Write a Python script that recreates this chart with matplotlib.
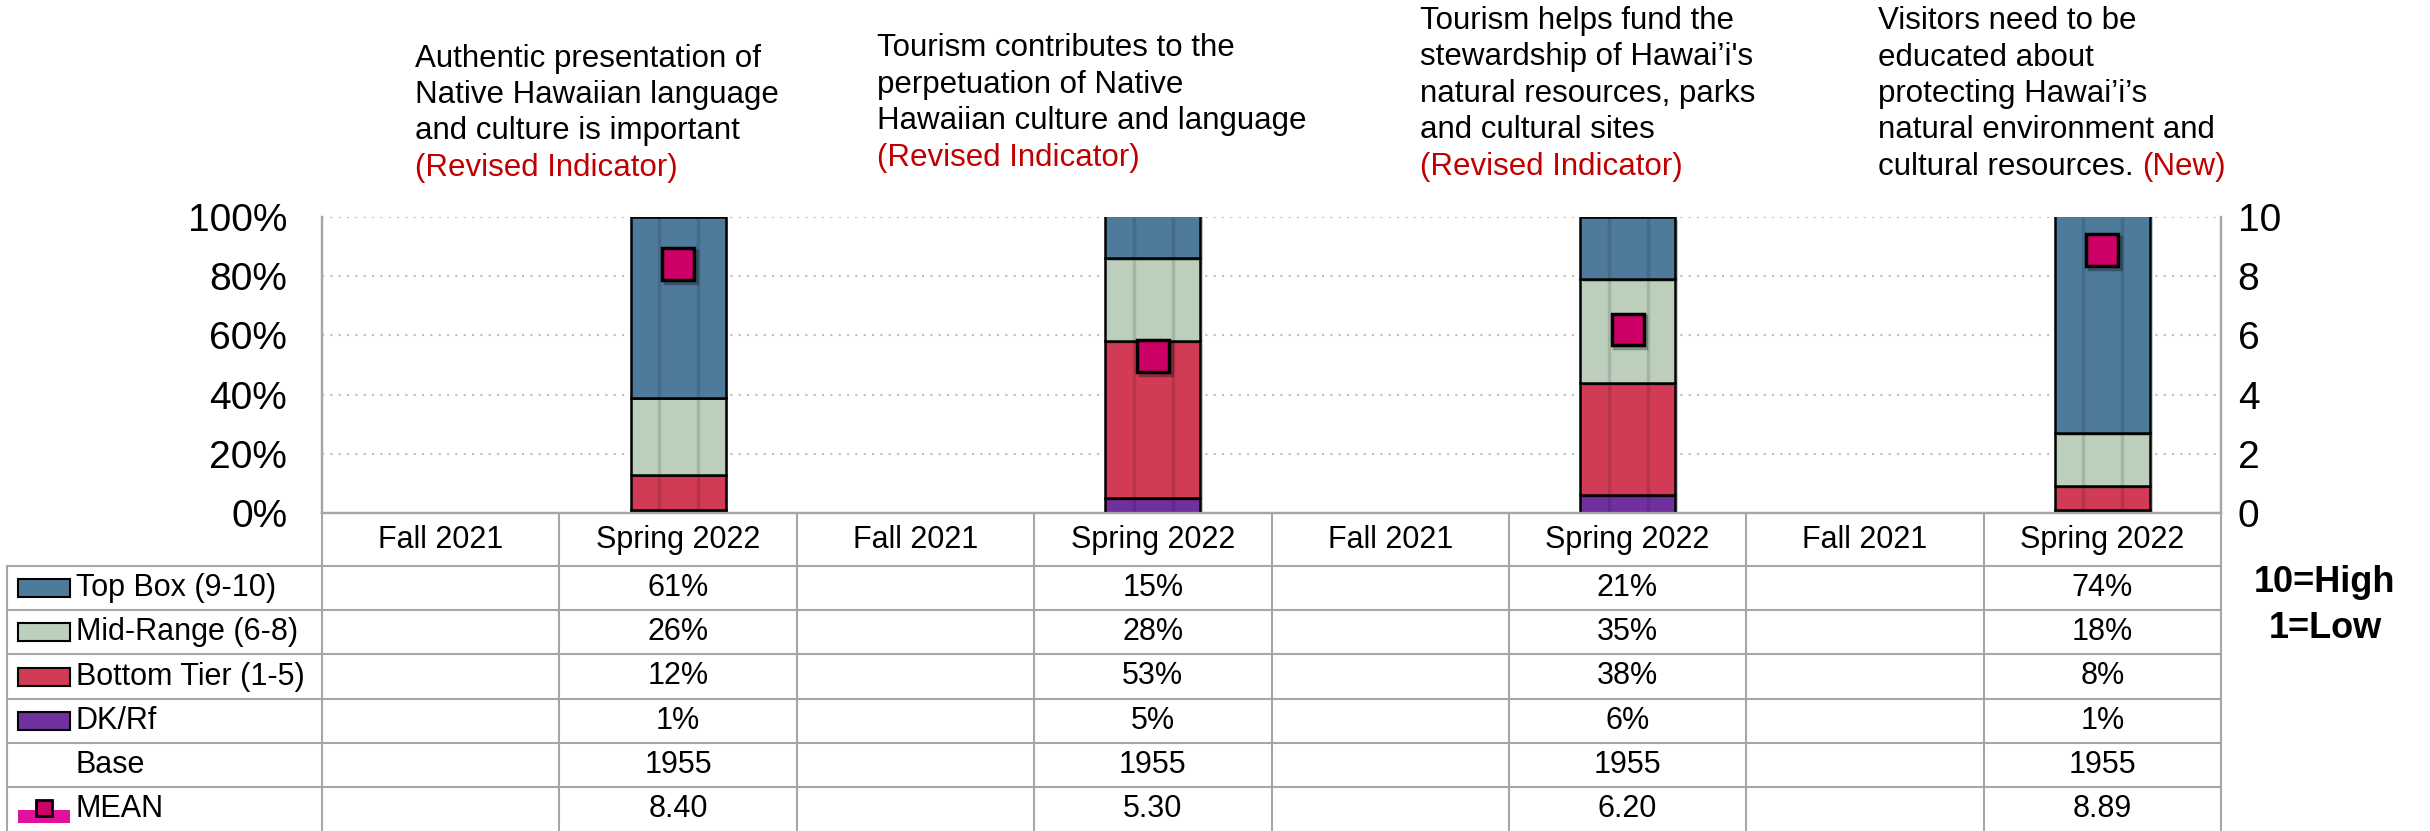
import matplotlib
matplotlib.use("Agg")
from matplotlib import pyplot as plt
from matplotlib import patheffects as pe
from matplotlib.patches import Rectangle
import numpy as np

plt.rcParams['font.family'] = ['Liberation Sans', 'DejaVu Sans']

# ---- data ----
title_lines = [
    ["Authentic presentation of", "Native Hawaiian language", "and culture is important"],
    ["Tourism contributes to the", "perpetuation of Native", "Hawaiian culture and language"],
    ["Tourism helps fund the", "stewardship of Hawai\u2019i's", "natural resources, parks", "and cultural sites"],
    ["Visitors need to be", "educated about", "protecting Hawai\u2019i\u2019s", "natural environment and", "cultural resources."],
]
title_tags = ["(Revised Indicator)", "(Revised Indicator)", "(Revised Indicator)", "(New)"]
periods = ["Fall 2021", "Spring 2022"]
top_box = [61, 15, 21, 74]
mid_range = [26, 28, 35, 18]
bottom_tier = [12, 53, 38, 8]
dk_rf = [1, 5, 6, 1]
base = [1955, 1955, 1955, 1955]
mean = [8.40, 5.30, 6.20, 8.89]
row_labels = ["Top Box (9-10)", "Mid-Range (6-8)", "Bottom Tier (1-5)", "DK/Rf", "Base", "MEAN"]

c_top, c_mid, c_bot, c_dk = '#4E7B9B', '#BCCFBC', '#D13B55', '#7030A0'
c_mean = '#CC0066'
c_red = '#C00000'
c_grid = '#A6A6A6'

W, H = 2430, 831
fig = plt.figure(figsize=(W / 100, H / 100), dpi=100)

# plot area in pixels
pl, pr, pt, pb = 322, 2221, 217, 513
ax = fig.add_axes([pl / W, 1 - pb / H, (pr - pl) / W, (pb - pt) / H])
n_cols = 2 * len(top_box)
xs = np.arange(n_cols)[1::2]
ax.set_xlim(-0.5, n_cols - 0.5)
ax.set_ylim(0, 100)

bw = 0.4
bottoms = np.zeros(len(xs))
for vals, col in [(dk_rf, c_dk), (bottom_tier, c_bot), (mid_range, c_mid), (top_box, c_top)]:
    ax.bar(xs, vals, bw, bottom=bottoms, color=col, edgecolor='black', linewidth=1.8, zorder=3,
           path_effects=[pe.withSimplePatchShadow(offset=(2, -2), alpha=0.25)])
    bottoms += np.array(vals)
# faint bevel strips on the bars
ax.vlines(np.concatenate([xs - bw * 0.2, xs + bw * 0.21]), 0, np.concatenate([bottoms, bottoms]),
          colors='k', alpha=0.12, linewidth=2.5, zorder=4)

ax.set_yticks(range(0, 101, 20))
ax.set_yticklabels([f"{v}%" for v in range(0, 101, 20)])
ax.tick_params(axis='y', length=0, labelsize=28, pad=25)
ax.set_xticks([])
ax.grid(axis='y', linestyle=(0, (1, 3)), color='#BFBFBF', linewidth=1.5)
ax.set_axisbelow(True)
ax.spines['top'].set_visible(False)
for s in ['left', 'right', 'bottom']:
    ax.spines[s].set_color(c_grid)
    ax.spines[s].set_linewidth(1.6)

ax2 = ax.twinx()
ax2.set_ylim(0, 10)
ax2.set_yticks(range(0, 11, 2))
ax2.tick_params(axis='y', length=0, labelsize=28, pad=12)
ax2.spines['top'].set_visible(False)
for s in ['left', 'right', 'bottom']:
    ax2.spines[s].set_color(c_grid)
    ax2.spines[s].set_linewidth(1.6)
ax2.plot(xs, mean, 's', ms=23, mfc=c_mean, mec='black', mew=2.5, zorder=5,
         path_effects=[pe.SimpleLineShadow(offset=(2, -2), alpha=0.3), pe.Normal()])

# ---- table + titles on a pixel overlay ----
tab = fig.add_axes([0, 0, 1, 1])
tab.set_xlim(0, W)
tab.set_ylim(H, 0)
tab.set_axis_off()

col_edges = pl + np.arange(n_cols + 1) * (pr - pl) / n_cols
col_mid = (col_edges[:-1] + col_edges[1:]) / 2
tl = 7
row_edges = 566 + np.arange(len(row_labels) + 1) * 44.2
row_mid = (row_edges[:-1] + row_edges[1:]) / 2

lw = 1.5
for y in row_edges[:-1]:
    tab.plot([tl, pr], [y, y], color=c_grid, lw=lw)
tab.plot([tl, tl], [row_edges[0], H], color=c_grid, lw=lw)
for x in col_edges:
    tab.plot([x, x], [pb, H], color=c_grid, lw=lw)

fs = 22
for i, cx in enumerate(col_mid):
    tab.text(cx, 540, periods[i % 2], ha='center', va='center', fontsize=fs)

patch_cols = [c_top, c_mid, c_bot, c_dk]
for r, lab in enumerate(row_labels):
    tab.text(76, row_mid[r], lab, ha='left', va='center', fontsize=fs)
    if r < len(patch_cols):
        tab.add_patch(Rectangle((18, row_mid[r] - 9), 52, 18, fc=patch_cols[r], ec='black', lw=1.5))
tab.add_patch(Rectangle((18, row_mid[5] + 1), 52, 13, fc='#E0119A', ec='none'))
tab.plot([44], [row_mid[5] - 1], 's', ms=12, mfc=c_mean, mec='black', mew=2)

rows = [[f"{v}%" for v in top_box], [f"{v}%" for v in mid_range], [f"{v}%" for v in bottom_tier],
        [f"{v}%" for v in dk_rf], [str(v) for v in base], [f"{v:.2f}" for v in mean]]
for r, vals in enumerate(rows):
    for j, v in enumerate(vals):
        tab.text(col_mid[2 * j + 1], row_mid[r], v, ha='center', va='center', fontsize=fs)

tab.text(2325, 583, "10=High", ha='center', va='center', fontsize=26, fontweight='bold')
tab.text(2325, 628, "1=Low", ha='center', va='center', fontsize=26, fontweight='bold')

title_x = [415, 877, 1420, 1878]
title_last_y = [168, 158, 167, 167]
tag_inline = [False, False, False, True]
ls = 36.5
for k, lines in enumerate(title_lines):
    n = len(lines) + (0 if tag_inline[k] else 1)
    y0 = title_last_y[k] - (n - 1) * ls
    for i, line in enumerate(lines):
        t = tab.text(title_x[k], y0 + i * ls, line, ha='left', va='center', fontsize=22.5)
    if tag_inline[k]:
        tab.annotate(title_tags[k], xy=(1, 0), xycoords=t, xytext=(6, 0), textcoords='offset points',
                     ha='left', va='bottom', fontsize=22.5, color=c_red)
    else:
        tab.text(title_x[k], y0 + len(lines) * ls, title_tags[k], ha='left', va='center',
                 fontsize=22.5, color=c_red)

fig.savefig("out.png", dpi=100)
